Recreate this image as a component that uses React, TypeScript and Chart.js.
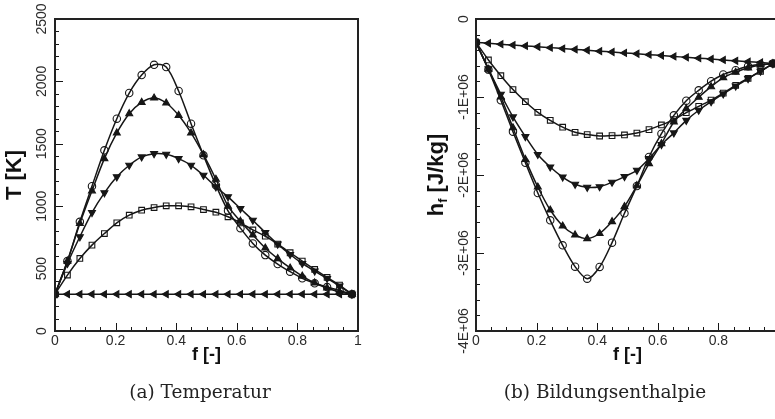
import React, { useEffect, useRef } from 'react';
import { Chart, registerables } from 'chart.js';

Chart.register(...registerables);

// ---------- data ----------
const fValues = [0, 0.041, 0.082, 0.122, 0.163, 0.204, 0.245, 0.286, 0.327, 0.367, 0.408, 0.449, 0.49, 0.531, 0.571, 0.612, 0.653, 0.694, 0.735, 0.776, 0.816, 0.857, 0.898, 0.939, 0.98];

// Temperature [K]
const tCircle = [295, 560, 875, 1160, 1448, 1701, 1907, 2051, 2133, 2115, 1923, 1661, 1408, 1168, 963, 824, 702, 608, 536, 475, 422, 382, 352, 325, 295];
const tTriUp = [295, 560, 861, 1123, 1381, 1587, 1741, 1832, 1867, 1827, 1728, 1587, 1413, 1216, 1000, 880, 770, 665, 580, 505, 440, 385, 345, 312, 295];
const tTriDown = [295, 541, 755, 949, 1107, 1235, 1328, 1395, 1421, 1416, 1381, 1328, 1248, 1155, 1075, 981, 888, 789, 696, 613, 541, 480, 421, 360, 295];
const tSquare = [295, 448, 581, 688, 781, 867, 928, 968, 989, 1003, 1003, 995, 973, 952, 915, 866, 810, 760, 696, 627, 560, 493, 429, 368, 295];
const tTriLeft = [295, 295, 295, 295, 295, 295, 295, 295, 295, 295, 295, 295, 295, 295, 295, 295, 295, 295, 295, 295, 295, 295, 295, 295, 295];

// Formation enthalpy [J/kg]
const hCircle = [-300000, -649000, -1042000, -1445000, -1843000, -2231000, -2581000, -2901000, -3175000, -3329000, -3179000, -2867000, -2491000, -2141000, -1769000, -1470000, -1235000, -1047000, -914000, -797000, -711000, -656000, -605000, -585000, -572000];
const hTriUp = [-300000, -645000, -1000000, -1395000, -1800000, -2154000, -2449000, -2654000, -2768000, -2816000, -2750000, -2598000, -2405000, -2137000, -1854000, -1598000, -1320000, -1150000, -1004000, -868000, -752000, -683000, -626000, -590000, -572000];
const hTriDown = [-300000, -640000, -965000, -1255000, -1508000, -1737000, -1897000, -2026000, -2119000, -2158000, -2150000, -2093000, -2020000, -1940000, -1790000, -1610000, -1460000, -1300000, -1170000, -1060000, -960000, -860000, -765000, -670000, -572000];
const hSquare = [-300000, -525000, -727000, -905000, -1060000, -1196000, -1299000, -1387000, -1453000, -1482000, -1500000, -1495000, -1486000, -1462000, -1418000, -1358000, -1290000, -1200000, -1120000, -1040000, -950000, -850000, -760000, -670000, -572000];
const hTriLeft = [-300000, -311000, -323000, -334000, -345000, -356000, -367000, -379000, -390000, -401000, -412000, -423000, -435000, -446000, -457000, -468000, -480000, -491000, -502000, -513000, -525000, -536000, -547000, -558000, -570000];

// ticks
const xTickValues = [0, 0.2, 0.4, 0.6, 0.8, 1];
const xTickLabels = ['0', '0.2', '0.4', '0.6', '0.8', '1'];
const tTickValues = [0, 500, 1000, 1500, 2000, 2500];
const tTickLabels = ['0', '500', '1000', '1500', '2000', '2500'];
const hTickValues = [0, -1000000, -2000000, -3000000, -4000000];
const hTickLabels = ['0', '-1E+06', '-2E+06', '-3E+06', '-4E+06'];

const INK = '#161616';
const TEXT = '#2a2a2a';

type SeriesDef = { values: number[]; style: string; rotation: number; radius: number; filled: boolean };

function buildDatasets(defs: SeriesDef[]) {
  return defs.map((d) => ({
    data: fValues.map((f, i) => ({ x: f, y: d.values[i] })),
    borderColor: INK,
    borderWidth: 1.5,
    pointStyle: d.style,
    pointRotation: d.rotation,
    pointRadius: d.radius,
    pointBorderWidth: 1.1,
    pointBorderColor: INK,
    pointBackgroundColor: d.filled ? INK : 'rgba(255,255,255,0)',
    tension: 0.3,
    fill: false,
  }));
}

type AxisSpec = {
  yTicks: number[];
  yLabels: string[];
  yMinorStep: number;
  yMin: number;
  yMax: number;
  yLabelX: number;
  yTitleX: number;
  yTitle: (ctx: CanvasRenderingContext2D, x: number, y: number) => void;
};

function makeAxesPlugin(spec: AxisSpec) {
  return {
    id: 'tecAxes',
    afterDatasetsDraw(chart: any) {
      const { ctx, chartArea: a, scales } = chart;
      const xs = scales.x;
      const ys = scales.y;
      ctx.save();
      // ticks (inside)
      ctx.strokeStyle = INK;
      ctx.lineWidth = 1;
      for (let k = 0; k <= 20; k++) {
        const v = k * 0.05;
        const px = Math.round(xs.getPixelForValue(v)) + 0.5;
        const major = k % 4 === 0;
        ctx.beginPath();
        ctx.moveTo(px, a.bottom);
        ctx.lineTo(px, a.bottom - (major ? 8 : 4));
        ctx.stroke();
      }
      const nMinor = Math.round((spec.yMax - spec.yMin) / spec.yMinorStep);
      for (let k = 0; k <= nMinor; k++) {
        const v = spec.yMin + k * spec.yMinorStep;
        const py = Math.round(ys.getPixelForValue(v)) + 0.5;
        const major = spec.yTicks.some((t) => Math.abs(t - v) < spec.yMinorStep / 10);
        ctx.beginPath();
        ctx.moveTo(a.left, py);
        ctx.lineTo(a.left + (major ? 8 : 4), py);
        ctx.stroke();
      }
      // frame
      ctx.strokeStyle = '#222';
      ctx.lineWidth = 2;
      ctx.strokeRect(a.left, a.top, a.right - a.left, a.bottom - a.top);
      // x tick labels
      ctx.fillStyle = TEXT;
      ctx.font = '14px "Liberation Sans", Arial, sans-serif';
      ctx.textAlign = 'center';
      ctx.textBaseline = 'middle';
      xTickValues.forEach((v, i) => {
        ctx.fillText(xTickLabels[i], xs.getPixelForValue(v), a.bottom + 10);
      });
      // y tick labels (rotated)
      spec.yTicks.forEach((v, i) => {
        ctx.save();
        ctx.translate(spec.yLabelX, ys.getPixelForValue(v));
        ctx.rotate(-Math.PI / 2);
        ctx.textAlign = 'center';
        ctx.textBaseline = 'middle';
        ctx.fillText(spec.yLabels[i], 0, 0);
        ctx.restore();
      });
      // x title
      ctx.fillStyle = '#111';
      ctx.font = 'bold 18px "Liberation Sans", Arial, sans-serif';
      ctx.textAlign = 'center';
      ctx.textBaseline = 'middle';
      ctx.fillText('f [-]', (a.left + a.right) / 2, a.bottom + 24);
      // y title
      spec.yTitle(ctx, spec.yTitleX, (a.top + a.bottom) / 2);
      ctx.restore();
    },
  };
}

function PlotCanvas(props: {
  left: number;
  width: number;
  padding: { left: number; right: number; top: number; bottom: number };
  defs: SeriesDef[];
  spec: AxisSpec;
}) {
  const ref = useRef<HTMLCanvasElement | null>(null);
  useEffect(() => {
    if (!ref.current) return;
    const chart = new Chart(ref.current, {
      type: 'line',
      data: { datasets: buildDatasets(props.defs) as any },
      options: {
        animation: false,
        responsive: false,
        devicePixelRatio: 1,
        layout: { padding: props.padding },
        scales: {
          x: { type: 'linear', min: 0, max: 1, display: false },
          y: { type: 'linear', min: props.spec.yMin, max: props.spec.yMax, display: false },
        },
        plugins: { legend: { display: false }, tooltip: { enabled: false } },
        elements: { line: { capBezierPoints: true } },
      },
      plugins: [makeAxesPlugin(props.spec)],
    } as any);
    return () => chart.destroy();
  }, []);
  return (
    <canvas
      ref={ref}
      width={props.width}
      height={419}
      style={{ position: 'absolute', left: props.left, top: 0, width: props.width, height: 419 }}
    />
  );
}

const leftDefs: SeriesDef[] = [
  { values: tTriLeft, style: 'triangle', rotation: -90, radius: 4, filled: true },
  { values: tSquare, style: 'rect', rotation: 0, radius: 4, filled: false },
  { values: tTriDown, style: 'triangle', rotation: 180, radius: 4, filled: true },
  { values: tTriUp, style: 'triangle', rotation: 0, radius: 4, filled: true },
  { values: tCircle, style: 'circle', rotation: 0, radius: 3.7, filled: false },
];
const rightDefs: SeriesDef[] = [
  { values: hTriLeft, style: 'triangle', rotation: -90, radius: 4, filled: true },
  { values: hSquare, style: 'rect', rotation: 0, radius: 4, filled: false },
  { values: hTriDown, style: 'triangle', rotation: 180, radius: 4, filled: true },
  { values: hTriUp, style: 'triangle', rotation: 0, radius: 4, filled: true },
  { values: hCircle, style: 'circle', rotation: 0, radius: 3.7, filled: false },
];

const leftSpec: AxisSpec = {
  yTicks: tTickValues,
  yLabels: tTickLabels,
  yMinorStep: 100,
  yMin: 0,
  yMax: 2500,
  yLabelX: 42.5,
  yTitleX: 15,
  yTitle: (ctx, x, y) => {
    ctx.save();
    ctx.translate(x, y);
    ctx.rotate(-Math.PI / 2);
    ctx.font = 'bold 22px "Liberation Sans", Arial, sans-serif';
    ctx.textAlign = 'center';
    ctx.textBaseline = 'middle';
    ctx.fillStyle = '#111';
    ctx.fillText('T [K]', 0, 0);
    ctx.restore();
  },
};

const rightSpec: AxisSpec = {
  yTicks: hTickValues,
  yLabels: hTickLabels,
  yMinorStep: 200000,
  yMin: -4000000,
  yMax: 0,
  yLabelX: 74,
  yTitleX: 47,
  yTitle: (ctx, x, y) => {
    ctx.save();
    ctx.translate(x, y);
    ctx.rotate(-Math.PI / 2);
    ctx.fillStyle = '#111';
    ctx.textBaseline = 'middle';
    ctx.textAlign = 'left';
    const big = 'bold 22px "Liberation Sans", Arial, sans-serif';
    const small = 'bold 13px "Liberation Sans", Arial, sans-serif';
    ctx.font = big;
    const wH = ctx.measureText('h').width;
    const wRest = ctx.measureText(' [J/kg]').width;
    ctx.font = small;
    const wF = ctx.measureText('f').width;
    const total = wH + wF + wRest;
    let cx = -total / 2;
    ctx.font = big;
    ctx.fillText('h', cx, 0);
    cx += wH;
    ctx.font = small;
    ctx.fillText('f', cx, 6);
    cx += wF;
    ctx.font = big;
    ctx.fillText(' [J/kg]', cx, 0);
    ctx.restore();
  },
};

const captionStyle: React.CSSProperties = {
  position: 'absolute',
  top: 379,
  width: 300,
  textAlign: 'center',
  fontFamily: '"DejaVu Serif", "Liberation Serif", serif',
  fontSize: 18.5,
  lineHeight: '26px',
  color: '#222',
};

export default function App() {
  return (
    <div style={{ position: 'fixed', left: 0, top: 0, width: 775, height: 419, overflow: 'hidden', background: '#fff' }}>
      <PlotCanvas left={0} width={390} padding={{ left: 55, right: 32, top: 19, bottom: 88 }} defs={leftDefs} spec={leftSpec} />
      <PlotCanvas left={390} width={420} padding={{ left: 86, right: 31, top: 19, bottom: 88 }} defs={rightDefs} spec={rightSpec} />
      <div style={{ ...captionStyle, left: 50 }}>(a) Temperatur</div>
      <div style={{ ...captionStyle, left: 455 }}>(b) Bildungsenthalpie</div>
    </div>
  );
}
